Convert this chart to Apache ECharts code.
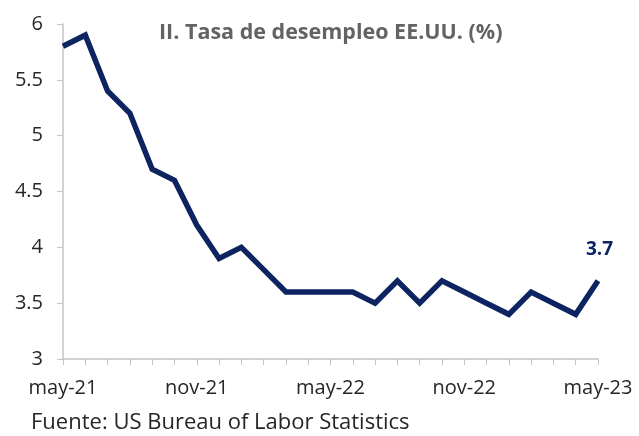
<!DOCTYPE html>
<html>
<head>
<meta charset="utf-8">
<script src="https://cdn.jsdelivr.net/npm/echarts@6/dist/echarts.min.js"></script>
<style>
  html, body { margin: 0; padding: 0; background: #fff; }
  #chart { width: 639px; height: 436px; }
</style>
</head>
<body>
<div id="chart"></div>
<script>
// meses de may-21 a may-23
const months = ['may-21', 'jun-21', 'jul-21', 'ago-21', 'sep-21', 'oct-21', 'nov-21', 'dic-21',
  'ene-22', 'feb-22', 'mar-22', 'abr-22', 'may-22', 'jun-22', 'jul-22', 'ago-22', 'sep-22',
  'oct-22', 'nov-22', 'dic-22', 'ene-23', 'feb-23', 'mar-23', 'abr-23', 'may-23']
// tasa de desempleo (%)
const unemployment = [5.8, 5.9, 5.4, 5.2, 4.7, 4.6, 4.2, 3.9, 4.0, 3.8, 3.6, 3.6, 3.6, 3.6, 3.5,
  3.7, 3.5, 3.7, 3.6, 3.5, 3.4, 3.6, 3.5, 3.4, 3.7]
const shownLabels = ['may-21', 'nov-21', 'may-22', 'nov-22', 'may-23']

const font = "'Open Sans', 'Noto Sans', sans-serif"
const navy = '#0d2461'
const axisGray = '#c4c4c4'

const myChart = echarts.init(document.getElementById('chart'))
myChart.setOption({
  animation: false,
  grid: { left: 63, right: 41, top: 24, bottom: 77 },
  title: {
    text: 'II. Tasa de desempleo EE.UU. (%)',
    left: 154,
    top: 17,
    textStyle: { fontFamily: font, fontSize: 21.5, fontWeight: 'bold', color: '#636363' }
  },
  graphic: [{
    type: 'text',
    left: 31,
    top: 412,
    style: { text: 'Fuente: US Bureau of Labor Statistics', fontFamily: font, fontSize: 22, fill: '#262626' }
  }],
  xAxis: {
    type: 'category',
    data: months,
    boundaryGap: false,
    axisLine: { lineStyle: { color: axisGray, width: 1.5 } },
    axisTick: { show: true, interval: 0, length: 6, lineStyle: { color: axisGray } },
    axisLabel: {
      interval: 0,
      margin: 19,
      fontFamily: font,
      fontSize: 20,
      color: '#262626',
      formatter: v => shownLabels.includes(v) ? v : ''
    }
  },
  yAxis: {
    type: 'value',
    min: 3,
    max: 6,
    interval: 0.5,
    splitLine: { show: false },
    axisLine: { show: true, lineStyle: { color: axisGray, width: 1.5 } },
    axisTick: { show: true, length: 6, lineStyle: { color: axisGray } },
    axisLabel: { margin: 20, fontFamily: font, fontSize: 20, color: '#262626' }
  },
  series: [{
    type: 'line',
    data: unemployment,
    symbol: 'none',
    lineStyle: { color: navy, width: 5.5, join: 'miter' },
    // etiqueta del ultimo dato
    endLabel: {
      show: true,
      formatter: p => p.value.toFixed(1),
      offset: [-20, -31],
      fontFamily: font,
      fontSize: 19,
      fontWeight: 'bold',
      color: navy
    }
  }]
})
</script>
</body>
</html>
